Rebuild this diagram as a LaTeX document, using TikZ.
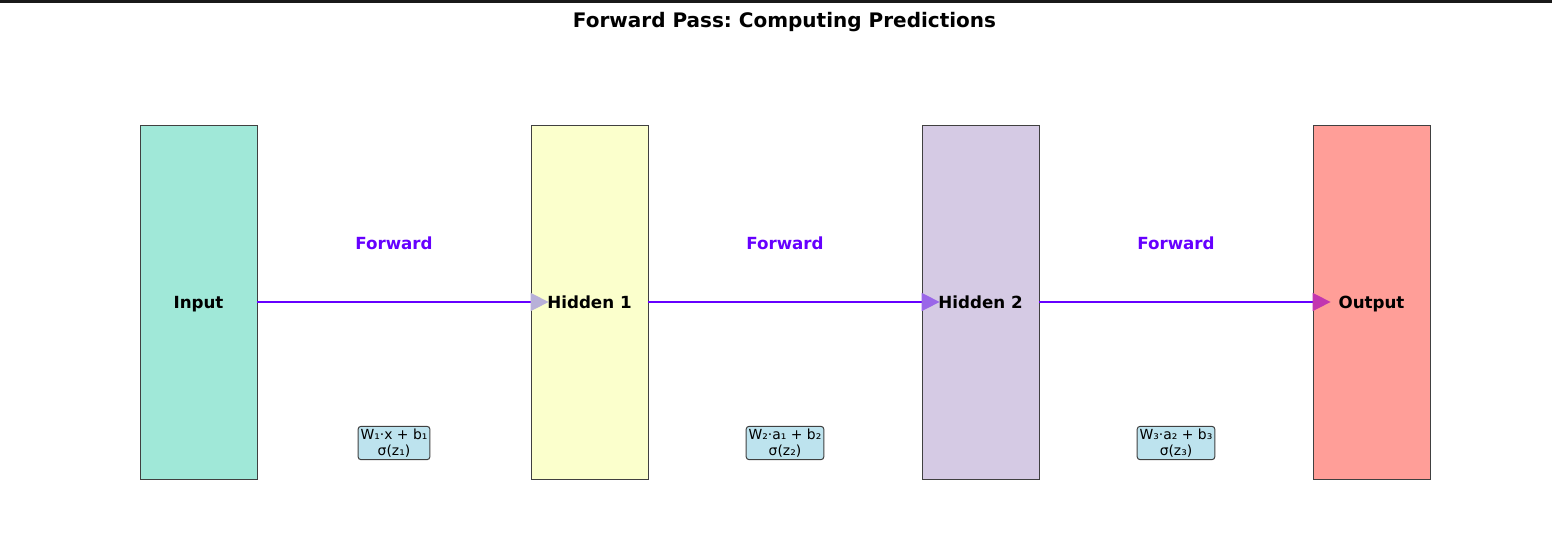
\documentclass[tikz,border=0pt]{standalone}
\usepackage{fontspec}
\setmainfont{DejaVu Sans}
\usetikzlibrary{arrows.meta}
\frenchspacing

\definecolor{inputcol}{HTML}{A0E8D8}
\definecolor{honecol}{HTML}{FBFFCC}
\definecolor{htwocol}{HTML}{D5CAE4}
\definecolor{outputcol}{HTML}{FF9E98}
\definecolor{flowcol}{HTML}{6600FF}
\definecolor{formcol}{HTML}{BDE3EE}
\definecolor{edgecol}{HTML}{404040}

\tikzset{
  layer/.style={draw=edgecol, line width=0.8pt, minimum width=117pt, minimum height=354pt,
    inner sep=0pt, text height=12pt, text depth=0pt, font=\fontsize{16.7}{20}\selectfont\bfseries},
  flowlabel/.style={text=flowcol, font=\fontsize{16.7}{20}\selectfont\bfseries},
  formula/.style={draw=edgecol, fill=formcol, rounded corners=3pt, line width=1pt,
    align=center, inner sep=2.5pt, font=\fontsize{13.9}{16}\selectfont}
}

\begin{document}
\begin{tikzpicture}[x=1pt, y=-1pt]
  \useasboundingbox (0,0) rectangle (1552,546);

  % Top rule
  \draw[line width=3pt, black!90] (0,1.5) -- (1552,1.5);

  % Title
  \node[font=\fontsize{20}{24}\selectfont\bfseries] (title) at (784.5,22) {Forward Pass: Computing Predictions};

  % Layers
  \node[layer, fill=inputcol] (input) at (198.5,302) {};
  \node[layer, fill=honecol] (hone) at (589.5,302) {};
  \node[layer, fill=htwocol] (htwo) at (980.5,302) {};
  \node[layer, fill=outputcol] (output) at (1371.5,302) {};

  % Flow arrows
  \foreach \a/\b/\head in {input/hone/B8B0D8, hone/htwo/9A66E8, htwo/output/C236B0} {
    \definecolor{headcol}{HTML}{\head}
    \draw[flowcol, line width=1.6pt,
      -{Triangle[length=18pt, width=18pt, fill=headcol, color=headcol]}]
      (\a.east) -- ([xshift=18pt]\b.west);
  }

  % Layer names
  \node[layer, draw=none] at (input) {Input};
  \node[layer, draw=none] at (hone) {Hidden 1};
  \node[layer, draw=none] at (htwo) {Hidden 2};
  \node[layer, draw=none] at (output) {Output};

  % Forward labels
  \node[flowlabel] (fone) at (394,243) {Forward};
  \node[flowlabel] (ftwo) at (785,243) {Forward};
  \node[flowlabel] (fthree) at (1176,243) {Forward};

  % Formulas
  \node[formula] (zone) at (394,443) {W₁·x + b₁\\σ(z₁)};
  \node[formula] (ztwo) at (785,443) {W₂·a₁ + b₂\\σ(z₂)};
  \node[formula] (zthree) at (1176,443) {W₃·a₂ + b₃\\σ(z₃)};
\end{tikzpicture}
\end{document}
